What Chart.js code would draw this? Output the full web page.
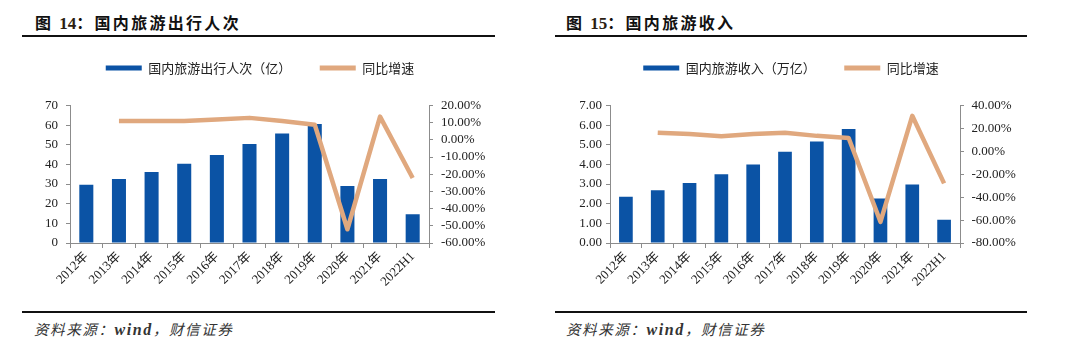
<!DOCTYPE html>
<html><head><meta charset="utf-8">
<script src="https://cdn.jsdelivr.net/npm/chart.js@4.4.0/dist/chart.umd.min.js"></script>
<style>
body{margin:0;background:#fff;width:1080px;height:360px;overflow:hidden;position:relative;font-family:'Noto Sans CJK SC',sans-serif;}
.title{position:absolute;top:11px;font-size:16px;font-weight:bold;color:#111;line-height:22px;letter-spacing:2.3px;white-space:nowrap}
.title .num{font-family:'Liberation Serif';font-size:17px;letter-spacing:0;color:#2b1d12}
.rule{position:absolute;height:2px;background:#111}
.src{position:absolute;top:318px;font-size:14.5px;font-style:italic;color:#333;letter-spacing:1.6px;white-space:nowrap;line-height:22px}
.src .w{font-family:'Liberation Serif';font-weight:bold;font-size:16px}
.cv{position:absolute}
</style></head><body>
<div class="title" style="left:35px">图 <span class="num">14</span>：国内旅游出行人次</div>
<div class="rule" style="left:22px;width:473px;top:35px"></div>
<div class="title" style="left:566px">图 <span class="num">15</span>：国内旅游收入</div>
<div class="rule" style="left:555px;width:472px;top:35px"></div>

<canvas id="c1" class="cv" style="left:0;top:33px" width="520" height="272"></canvas>
<canvas id="c2" class="cv" style="left:540px;top:33px" width="502" height="272"></canvas>

<div class="rule" style="left:22px;width:473px;top:311px"></div>
<div class="src" style="left:34px">资料来源：<span class="w">wind</span>，财信证券</div>
<div class="rule" style="left:555px;width:472px;top:311px"></div>
<div class="src" style="left:566px">资料来源：<span class="w">wind</span>，财信证券</div>

<script>
const categories = ['2012年','2013年','2014年','2015年','2016年','2017年','2018年','2019年','2020年','2021年','2022H1'];
const tripsVolume = [29.6, 32.6, 36.2, 40.4, 44.8, 50.4, 55.8, 60.6, 29.0, 32.6, 14.6];
const tripsGrowth = [null, 11.0, 11.0, 11.0, 11.8, 12.8, 11.0, 8.8, -52.0, 13.5, -22.2];
const revenueVolume = [2.35, 2.68, 3.06, 3.50, 4.00, 4.65, 5.17, 5.80, 2.26, 2.98, 1.18];
const revenueGrowth = [null, 16.3, 15.1, 13.2, 15.1, 16.3, 13.5, 11.7, -61.5, 31.0, -28.0];
const tripsAxisTicks = [0, 10, 20, 30, 40, 50, 60, 70];
const tripsRateTicks = [-60, -50, -40, -30, -20, -10, 0, 10, 20];
const revenueAxisTicks = [0, 1, 2, 3, 4, 5, 6, 7];
const revenueRateTicks = [-80, -60, -40, -20, 0, 20, 40];

const BLUE = '#0b53a5';
const ORANGE = '#e0a87e';
const AXIS = '#8c8c8c';
const TICKFONT = {family: "'Liberation Serif', 'Noto Sans CJK SC', serif", size: 13};

const legendGap = {
  id: 'legendGap',
  afterInit(chart) {
    const lg = chart.legend;
    const orig = lg.fit;
    lg.fit = function () { orig.call(this); this.height += 21; };
  }
};

function makeChart(id, o) {
  new Chart(document.getElementById(id), {
    type: 'bar',
    plugins: [legendGap],
    data: {
      labels: categories,
      datasets: [
        {label: o.barLabel, data: o.bars, backgroundColor: BLUE, borderWidth: 0,
         yAxisID: 'y', order: 1, barPercentage: 0.43, categoryPercentage: 1.0},
        {type: 'line', label: '同比增速', data: o.rates, borderColor: ORANGE, backgroundColor: ORANGE,
         borderWidth: 4.5, pointRadius: 0, tension: 0, yAxisID: 'y1', order: 0,
         borderJoinStyle: 'round', borderCapStyle: 'butt', clip: false, spanGaps: false}
      ]
    },
    options: {
      responsive: false, animation: false, devicePixelRatio: 1,
      layout: {padding: {top: 0, bottom: 0, left: 0, right: 0}},
      plugins: {
        tooltip: {enabled: false},
        legend: {
          position: 'top', align: 'center',
          labels: {
            boxWidth: 36, boxHeight: 5, padding: 28.5, color: '#222',
            font: {family: "'Noto Sans CJK SC', sans-serif", size: 13},
            sort: (a, b) => a.datasetIndex - b.datasetIndex,
            generateLabels(chart) {
              const items = Chart.defaults.plugins.legend.labels.generateLabels(chart);
              items.forEach(it => {
                const ds = chart.data.datasets[it.datasetIndex];
                it.lineWidth = 0;
                it.fillStyle = ds.type === 'line' ? ds.borderColor : ds.backgroundColor;
                it.strokeStyle = it.fillStyle;
              });
              return items;
            }
          }
        }
      },
      scales: {
        x: {
          offset: true,
          grid: {display: true, drawOnChartArea: false, offset: true, tickLength: 5, color: AXIS},
          border: {display: true, color: AXIS, width: 1},
          ticks: {color: '#222', font: TICKFONT, maxRotation: 45, minRotation: 45, autoSkip: false, padding: 1},
          afterFit(s) { s.height = 62; }
        },
        y: {
          position: 'left', min: o.leftTicks[0], max: o.leftTicks[o.leftTicks.length - 1],
          afterBuildTicks(s) { s.ticks = o.leftTicks.map(v => ({value: v})); },
          grid: {display: true, drawOnChartArea: false, tickLength: 4, color: AXIS},
          border: {display: true, color: AXIS, width: 1},
          ticks: {color: '#222', font: TICKFONT, padding: o.leftPad, autoSkip: false,
                  callback: v => o.leftFmt(v)},
          afterFit(s) { s.width = 70; }
        },
        y1: {
          position: 'right', min: o.rightTicks[0], max: o.rightTicks[o.rightTicks.length - 1],
          afterBuildTicks(s) { s.ticks = o.rightTicks.map(v => ({value: v})); },
          grid: {display: true, drawOnChartArea: false, tickLength: 4, color: AXIS},
          border: {display: true, color: AXIS, width: 1},
          ticks: {color: '#222', font: TICKFONT, padding: o.rightPad, autoSkip: false,
                  callback: v => (Math.abs(v) < 1e-9 ? 0 : v).toFixed(2) + '%'},
          afterFit(s) { s.width = o.rightWidth; }
        }
      }
    }
  });
}

makeChart('c1', {
  barLabel: '国内旅游出行人次（亿）', bars: tripsVolume, rates: tripsGrowth,
  leftTicks: tripsAxisTicks, rightTicks: tripsRateTicks,
  leftFmt: v => String(v), leftPad: 8, rightPad: 8, rightWidth: 91
});
makeChart('c2', {
  barLabel: '国内旅游收入（万亿）', bars: revenueVolume, rates: revenueGrowth,
  leftTicks: revenueAxisTicks, rightTicks: revenueRateTicks,
  leftFmt: v => Number(v).toFixed(2), leftPad: 4, rightPad: 7.5, rightWidth: 82
});
</script>
</body></html>
